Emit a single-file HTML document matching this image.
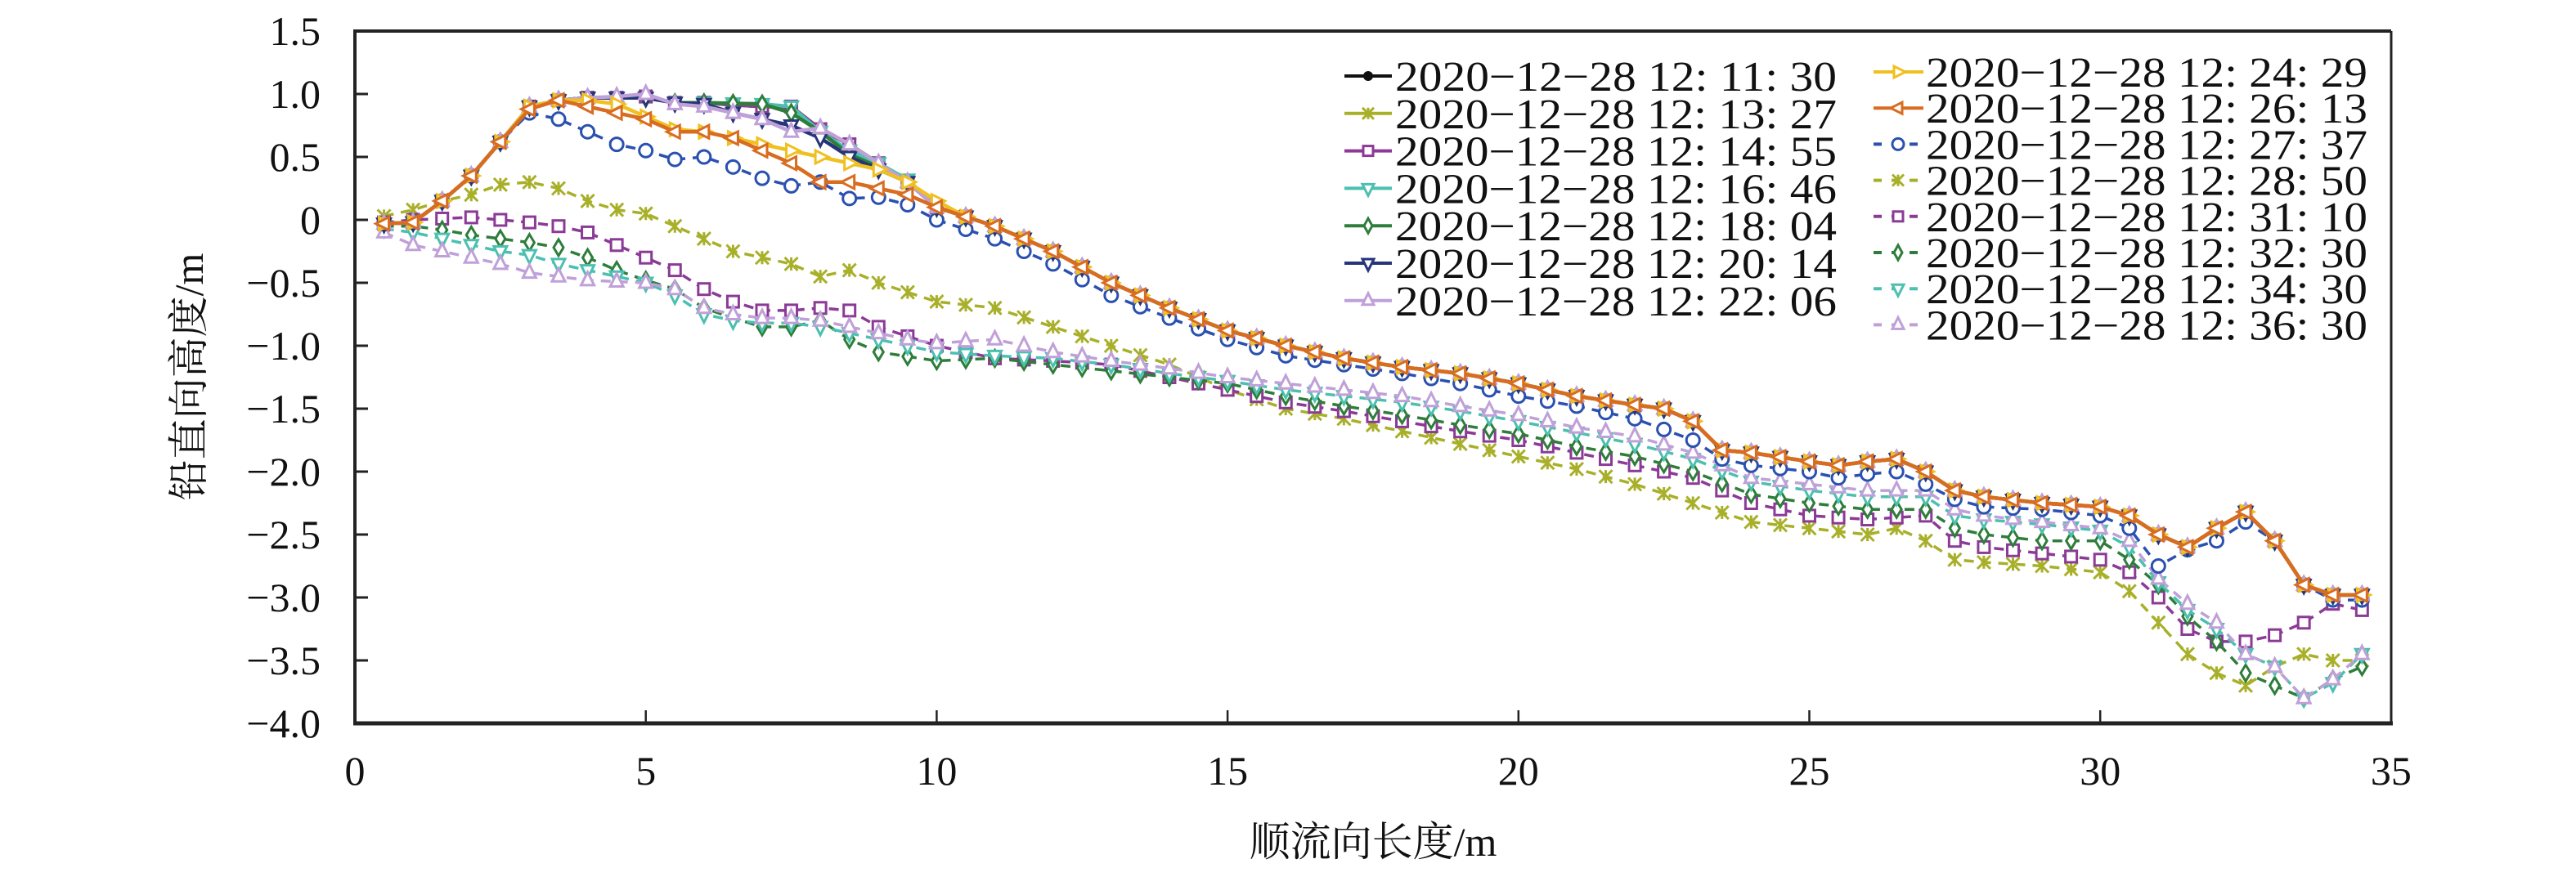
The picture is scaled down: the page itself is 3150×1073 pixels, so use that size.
<!DOCTYPE html>
<html><head><meta charset="utf-8"><style>
html,body{margin:0;padding:0;background:#fff;width:3150px;height:1073px;overflow:hidden}
svg text{font-family:"Liberation Serif","Noto Serif CJK SC",serif;fill:#111}
</style></head><body>
<svg id="s" width="3150" height="1073" viewBox="0 0 3150 1073" xmlns="http://www.w3.org/2000/svg"></svg>
<script>
(function(){
const X=x=>434+x*71.14, Y=y=>269-y*154;
const S=document.getElementById('s');let h='';
h+='<line x1="434" y1="38" x2="2924" y2="38" stroke="#222" stroke-width="4"/>';
h+='<line x1="2924" y1="38" x2="2924" y2="885" stroke="#222" stroke-width="3"/>';
h+='<line x1="434" y1="36" x2="434" y2="887" stroke="#222" stroke-width="4"/>';
h+='<line x1="432" y1="885" x2="2926" y2="885" stroke="#222" stroke-width="5"/>';
for(let i=0;i<=7;i++){let x=X(i*5);if(i>0&&i<7)h+=`<line x1="${x}" y1="885" x2="${x}" y2="869" stroke="#222" stroke-width="2.5"/>`;
h+=`<text x="${x}" y="960" font-size="50" text-anchor="middle">${i*5}</text>`;}
const yl=['1.5','1.0','0.5','0','−0.5','−1.0','−1.5','−2.0','−2.5','−3.0','−3.5','−4.0'];
for(let i=0;i<12;i++){let v=1.5-i*0.5,y=Y(v);if(i>0&&i<11)h+=`<line x1="434" y1="${y}" x2="450" y2="${y}" stroke="#222" stroke-width="3"/>`;
h+=`<text x="392" y="${y+17}" font-size="50" text-anchor="end">${yl[i]}</text>`;}
h+=`<text x="1679" y="1047" font-size="50" text-anchor="middle">顺流向长度/m</text>`;
h+=`<text transform="translate(248,461) rotate(-90)" font-size="50" text-anchor="middle">铅直向高度/m</text>`;
function interp(a){const r=[];for(let k=1;k<=69;k++){let x=k*0.5;let i=0;while(i<a.length-2&&a[i+1][0]<x)i++;let p0=a[i],p1=a[i+1];let t=(x-p0[0])/(p1[0]-p0[0]);t=Math.max(0,Math.min(1,t));r.push([x,p0[1]+(p1[1]-p0[1])*t]);}return r;}
const tail=[[10,0.1],[11,-0.05],[12,-0.25],[13,-0.5],[14,-0.7],[15,-0.88],[16,-1.0],[17,-1.1],[18,-1.17],[19,-1.22],[20,-1.3],[21,-1.4],[22,-1.47],[22.5,-1.5],[23,-1.6],[23.5,-1.83],[24,-1.85],[25,-1.92],[25.5,-1.95],[26,-1.92],[26.5,-1.9],[27,-2.0],[27.5,-2.15],[28,-2.2],[29,-2.25],[30,-2.28],[30.5,-2.35],[31,-2.5],[31.5,-2.6],[32,-2.45],[32.5,-2.32],[33,-2.55],[33.5,-2.9],[34,-2.98],[34.5,-2.98]];
const head=[[0.5,-0.03],[1,-0.02],[1.5,0.15],[2,0.35],[2.5,0.62],[3,0.9]];
const mkTop=(mid)=>head.concat(mid,tail);
const blk=mkTop([[3.5,0.95],[4,0.97],[4.5,0.97],[5,0.98],[5.5,0.93],[6,0.93],[7,0.9],[7.5,0.9],[8,0.72],[8.5,0.6],[9,0.45],[9.5,0.3]]);
const ser=[
['#a8b02a','x',1,[[0.5,0.03],[1,0.08],[1.5,0.15],[2,0.2],[2.5,0.28],[3,0.3],[3.5,0.25],[4,0.15],[4.5,0.08],[5,0.05],[5.5,-0.05],[6,-0.15],[6.5,-0.25],[7,-0.3],[7.5,-0.35],[8,-0.45],[8.5,-0.4],[9,-0.5],[10,-0.65],[11,-0.7],[12,-0.85],[13,-1.0],[14,-1.15],[15,-1.35],[16,-1.5],[17,-1.58],[18,-1.68],[19,-1.78],[20,-1.88],[21,-1.98],[22,-2.1],[23,-2.25],[24,-2.4],[25,-2.45],[26,-2.5],[26.5,-2.45],[27,-2.55],[27.5,-2.7],[28,-2.72],[29,-2.75],[30,-2.8],[30.5,-2.95],[31,-3.2],[31.5,-3.45],[32,-3.6],[32.5,-3.7],[33,-3.55],[33.5,-3.45],[34,-3.5],[34.5,-3.5]]],
['#8b3a96','sq',1,[[0.5,-0.02],[1,0],[2,0.02],[3,-0.02],[3.5,-0.05],[4,-0.1],[4.5,-0.2],[5,-0.3],[5.5,-0.4],[6,-0.55],[6.5,-0.65],[7,-0.72],[7.5,-0.72],[8,-0.7],[8.5,-0.72],[9,-0.85],[10,-1.0],[11,-1.1],[12,-1.12],[13,-1.15],[14,-1.25],[15,-1.35],[16,-1.45],[17,-1.52],[18,-1.6],[19,-1.68],[20,-1.75],[21,-1.85],[22,-1.95],[23,-2.05],[24,-2.25],[25,-2.35],[26,-2.38],[27,-2.35],[27.5,-2.55],[28,-2.6],[29,-2.65],[30,-2.7],[30.5,-2.8],[31,-3.0],[31.5,-3.25],[32,-3.35],[32.5,-3.35],[33,-3.3],[33.5,-3.2],[34,-3.05],[34.5,-3.1]]],
['#2e7d3a','di',1,[[0.5,-0.05],[1,-0.05],[1.5,-0.08],[2,-0.12],[2.5,-0.15],[3,-0.18],[3.5,-0.22],[4,-0.3],[4.5,-0.4],[5,-0.48],[5.5,-0.55],[6,-0.7],[6.5,-0.78],[7,-0.85],[7.5,-0.85],[8,-0.8],[8.5,-0.95],[9,-1.05],[10,-1.12],[11,-1.1],[12,-1.15],[13,-1.2],[14,-1.25],[15,-1.3],[16,-1.4],[17,-1.48],[18,-1.55],[19,-1.63],[20,-1.7],[21,-1.8],[22,-1.88],[23,-2.0],[24,-2.18],[25,-2.25],[26,-2.3],[27,-2.3],[27.5,-2.45],[28,-2.5],[29,-2.55],[30,-2.55],[30.5,-2.7],[31,-2.9],[31.5,-3.15],[32,-3.35],[32.5,-3.6],[33,-3.7],[33.5,-3.8],[34,-3.65],[34.5,-3.55]]],
['#4cc0b0','dn',1,[[0.5,-0.07],[1,-0.1],[1.5,-0.15],[2,-0.2],[2.5,-0.25],[3,-0.28],[3.5,-0.35],[4,-0.4],[4.5,-0.45],[5,-0.5],[5.5,-0.6],[6,-0.75],[6.5,-0.8],[7,-0.82],[7.5,-0.82],[8,-0.85],[9,-0.95],[10,-1.05],[11,-1.08],[12,-1.1],[13,-1.15],[14,-1.22],[15,-1.28],[16,-1.35],[17,-1.4],[18,-1.45],[19,-1.52],[20,-1.6],[22,-1.78],[23,-1.9],[24,-2.08],[25,-2.15],[26,-2.2],[27,-2.2],[27.5,-2.35],[28,-2.38],[29,-2.42],[30,-2.47],[30.5,-2.6],[31,-2.88],[31.5,-3.1],[32,-3.25],[32.5,-3.45],[33,-3.55],[33.5,-3.8],[34,-3.68],[34.5,-3.45]]],
['#c0a0d8','up',1,[[0.5,-0.1],[1,-0.2],[1.5,-0.25],[2,-0.3],[2.5,-0.35],[3,-0.42],[3.5,-0.45],[4,-0.48],[5,-0.5],[5.5,-0.55],[6,-0.7],[6.5,-0.75],[7,-0.78],[7.5,-0.78],[8,-0.8],[9,-0.9],[9.5,-0.95],[10,-0.98],[11,-0.95],[12,-1.05],[13,-1.12],[14,-1.18],[15,-1.25],[16,-1.3],[17,-1.35],[18,-1.4],[19,-1.48],[20,-1.55],[21,-1.65],[22,-1.72],[23,-1.85],[24,-2.05],[25,-2.1],[26,-2.15],[27,-2.15],[27.5,-2.3],[28,-2.35],[29,-2.4],[30,-2.45],[30.5,-2.55],[31,-2.85],[31.5,-3.05],[32,-3.2],[32.5,-3.45],[33,-3.55],[33.5,-3.8],[34,-3.65],[34.5,-3.45]]],
['#2a50b0','ci',1,head.slice(0,5).concat([[3,0.85],[3.5,0.8],[4,0.7],[4.5,0.6],[5,0.55],[5.5,0.48],[6,0.5],[6.5,0.42],[7,0.33],[7.5,0.27],[8,0.3],[8.5,0.17],[9,0.18],[9.5,0.12],[10,0.0],[11,-0.15],[12,-0.35],[13,-0.6],[14,-0.78],[15,-0.95],[16,-1.08],[17,-1.15],[18,-1.22],[19,-1.3],[20,-1.4],[21,-1.48],[22,-1.58],[23,-1.75],[23.5,-1.9],[24,-1.95],[25,-2.0],[25.5,-2.05],[26,-2.02],[26.5,-2.0],[27,-2.1],[27.5,-2.22],[28,-2.28],[29,-2.3],[30,-2.35],[30.5,-2.45],[31,-2.75],[31.5,-2.62],[32,-2.55],[32.5,-2.4],[33,-2.55],[33.5,-2.9],[34,-3.02],[34.5,-3.02]])],
['#111','dot',0,blk],
['#a8b02a','x',0,blk],
['#8b3a96','sq',0,blk],
['#4cc0b0','dn',0,mkTop([[3.5,0.95],[4,0.97],[5,0.97],[5.5,0.93],[6,0.93],[7,0.92],[7.5,0.9],[8,0.7],[8.5,0.55],[9,0.45],[9.5,0.32]])],
['#2e7d3a','di',0,mkTop([[3.5,0.95],[4,0.97],[5,0.97],[5.5,0.93],[6,0.93],[7,0.92],[7.5,0.85],[8,0.7],[8.5,0.52],[9,0.42],[9.5,0.3]])],
['#26347a','dn',0,mkTop([[3.5,0.95],[4,0.97],[5,0.97],[5.5,0.93],[6,0.92],[6.5,0.85],[7,0.8],[7.5,0.75],[8,0.65],[8.5,0.5],[9,0.4],[9.5,0.3]])],
['#c0a0d8','up',0,mkTop([[3.5,0.95],[4,0.97],[4.5,0.98],[5,1.0],[5.5,0.92],[6,0.9],[6.5,0.85],[7,0.8],[7.5,0.7],[8,0.73],[8.5,0.6],[9,0.45],[9.5,0.3]])],
['#f0c020','rt',0,mkTop([[3.5,0.95],[4,0.95],[4.5,0.92],[5,0.82],[5.5,0.72],[6,0.7],[6.5,0.65],[7,0.6],[7.5,0.55],[8,0.5],[8.5,0.45],[9,0.4],[9.5,0.3],[10,0.15]])],
['#d86c20','lt',0,head.slice(0,5).concat([[3,0.88],[3.5,0.95],[4,0.9],[4.5,0.85],[5,0.8],[5.5,0.7],[6,0.7],[6.5,0.65],[7,0.55],[7.5,0.45],[8,0.3],[8.5,0.3],[9,0.25],[9.5,0.2]],tail)]
];
function mk(t,x,y,c,s){s=s||8;switch(t){
case 'dot':return `<circle cx="${x}" cy="${y}" r="${s-1}" fill="${c}"/>`;
case 'x':return `<path d="M${x-s} ${y-s}L${x+s} ${y+s}M${x-s} ${y+s}L${x+s} ${y-s}M${x} ${y-s}V${y+s}" stroke="${c}" stroke-width="3"/>`;
case 'sq':return `<rect x="${x-s+1}" y="${y-s+1}" width="${2*s-2}" height="${2*s-2}" fill="#fff" stroke="${c}" stroke-width="3"/>`;
case 'di':return `<path d="M${x} ${y-s-2}L${x+s-2} ${y}L${x} ${y+s+2}L${x-s+2} ${y}Z" fill="#fff" stroke="${c}" stroke-width="3"/>`;
case 'ci':return `<circle cx="${x}" cy="${y}" r="${s}" fill="#fff" stroke="${c}" stroke-width="3"/>`;
case 'dn':return `<path d="M${x-s} ${y-s+2}L${x+s} ${y-s+2}L${x} ${y+s+2}Z" fill="#fff" stroke="${c}" stroke-width="3"/>`;
case 'up':return `<path d="M${x-s} ${y+s-2}L${x+s} ${y+s-2}L${x} ${y-s-2}Z" fill="#fff" stroke="${c}" stroke-width="3"/>`;
case 'rt':return `<path d="M${x-s+2} ${y-s}L${x-s+2} ${y+s}L${x+s+2} ${y}Z" fill="#fff" stroke="${c}" stroke-width="3"/>`;
case 'lt':return `<path d="M${x+s-2} ${y-s}L${x+s-2} ${y+s}L${x-s-2} ${y}Z" fill="#fff" stroke="${c}" stroke-width="3"/>`;}return '';}
for(const sr of ser){const c=sr[0],m=sr[1],d=sr[2];const p=interp(sr[3]);
h+=`<polyline fill="none" stroke="${c}" stroke-width="${d?3.5:4.5}" ${d?'stroke-dasharray="12 9"':''} points="${p.map(q=>X(q[0]).toFixed(1)+','+Y(q[1]).toFixed(1)).join(' ')}"/>`;
for(const q of p)h+=mk(m,X(q[0]),Y(q[1]),c);}
const L1=[['#111','dot','11: 30'],['#a8b02a','x','13: 27'],['#8b3a96','sq','14: 55'],['#4cc0b0','dn','16: 46'],['#2e7d3a','di','18: 04'],['#26347a','dn','20: 14'],['#c0a0d8','up','22: 06']];
const L2=[['#f0c020','rt','24: 29'],['#d86c20','lt','26: 13'],['#2a50b0','ci','27: 37'],['#a8b02a','x','28: 50'],['#8b3a96','sq','31: 10'],['#2e7d3a','di','32: 30'],['#4cc0b0','dn','34: 30'],['#c0a0d8','up','36: 30']];
L1.forEach((r,i)=>{let y=93+i*45.8;h+=`<line x1="1644" y1="${y}" x2="1702" y2="${y}" stroke="${r[0]}" stroke-width="4"/>`+mk(r[1],1673,y,r[0],7)+`<text x="1706" y="${y+18}" font-size="52" textLength="540" lengthAdjust="spacingAndGlyphs">2020−12−28  12: ${r[2]}</text>`;});
L2.forEach((r,i)=>{let y=88+i*44.2;let dash=i>=2;h+=`<line x1="2291" y1="${y}" x2="2352" y2="${y}" stroke="${r[0]}" stroke-width="4" ${dash?'stroke-dasharray="10 12"':''}/>`+mk(r[1],2321,y,r[0],7)+`<text x="2355" y="${y+18}" font-size="52" textLength="540" lengthAdjust="spacingAndGlyphs">2020−12−28  12: ${r[2]}</text>`;});
S.innerHTML=h;
})();
</script>
</body></html>
